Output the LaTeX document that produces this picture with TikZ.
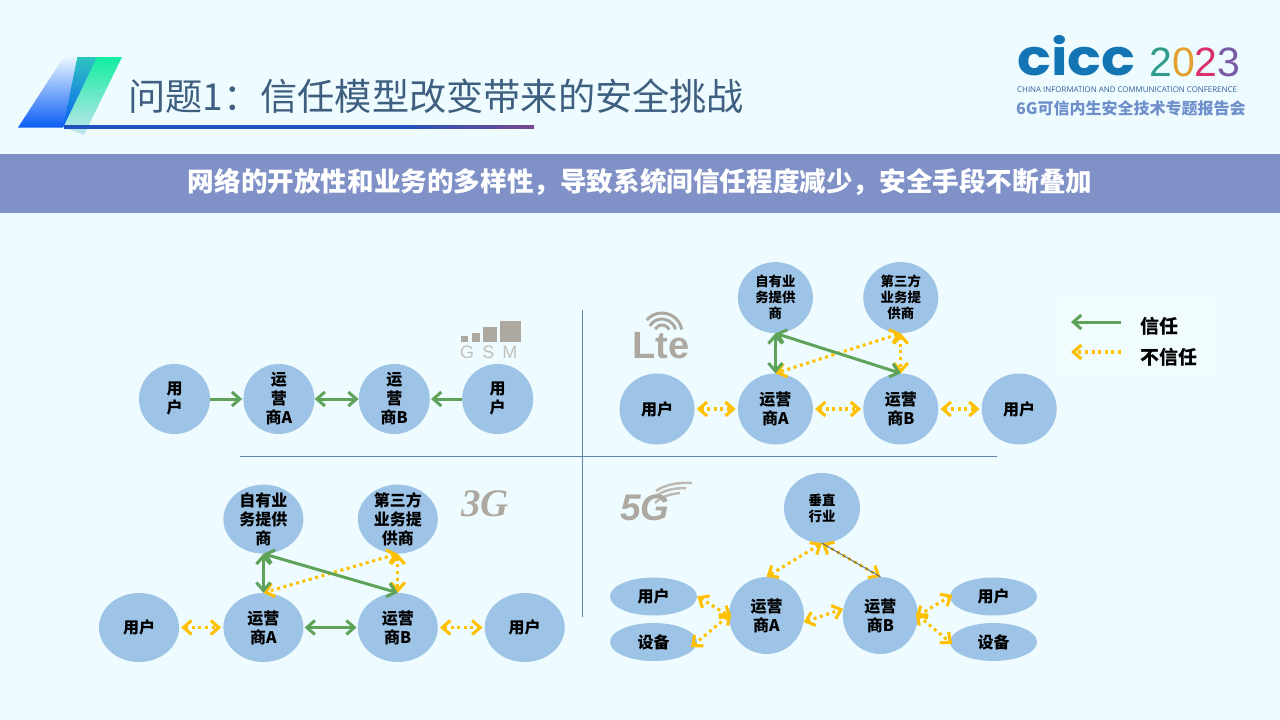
\documentclass[tikz,border=0pt]{standalone}
\usepackage{fontspec}
\setmainfont{Noto Sans CJK SC}
\newfontfamily\logosans{Liberation Sans}
\newfontfamily\logoserif{Liberation Serif}
\newfontfamily\logopop{Poppins}
\newfontfamily\logoopen{Open Sans}
\usepackage{xcolor}
\usepackage{tikz}
\usetikzlibrary{arrows.meta,positioning,shapes.geometric}
\definecolor{pagebg}{HTML}{EFFCFF}
\definecolor{nodeblue}{HTML}{9DC3E6}
\definecolor{trustgreen}{HTML}{5FA25A}
\definecolor{distrustgold}{HTML}{FFC000}
\definecolor{bandblue}{HTML}{7F91C6}
\definecolor{titleblue}{HTML}{3F5F80}
\definecolor{rulegrey}{HTML}{5F84AC}
\definecolor{logogrey}{HTML}{ADA9A1}
\definecolor{sessionblue}{HTML}{6F8FCB}
\definecolor{ciccblue}{HTML}{1475B5}
\definecolor{confblue}{HTML}{2F5E9E}
\definecolor{accentblue}{HTML}{0A5CF5}
\definecolor{accentteal}{HTML}{2EC4C0}
\definecolor{accentgreen}{HTML}{12EFA0}
\definecolor{accentpale}{HTML}{C5E3F0}
\definecolor{underlineblue}{HTML}{1F52BE}
\definecolor{underlineviolet}{HTML}{7A4A90}
\definecolor{yearteal}{HTML}{2F9C8C}
\definecolor{yearorange}{HTML}{E3A02F}
\definecolor{yearred}{HTML}{D9316E}
\definecolor{yearviolet}{HTML}{7A5BA6}

\begin{document}
\begin{tikzpicture}[
  x=1pt, y=-1pt,
  >={Straight Barb[length=8pt,width=14pt]},
  peer/.style={ellipse, fill=nodeblue, inner sep=-8pt, align=center,
               font=\bfseries\fontsize{16}{19}\selectfont},
  gsmpeer/.style={peer, minimum width=71pt, minimum height=70pt},
  ltepeer/.style={peer, minimum width=75pt, minimum height=71pt},
  tgpeer/.style={peer, minimum width=80pt, minimum height=69pt},
  fgpeer/.style={peer, minimum width=75pt, minimum height=77pt},
  fgside/.style={peer, minimum width=87pt, minimum height=38pt},
  smalltext/.style={font=\bfseries\fontsize{13.4}{16}\selectfont},
  trust/.style={draw=trustgreen, line width=3pt},
  distrust/.style={draw=distrustgold, line width=3.1pt, dash pattern=on 3pt off 3.6pt},
  legendtext/.style={anchor=west, inner sep=0pt, font=\bfseries\fontsize{19}{22}\selectfont},
  logotext/.style={inner sep=0pt, text=logogrey}
]
\useasboundingbox (0,0) rectangle (1280,720);
\fill[pagebg] (0,0) rectangle (1280,720);

% header
\shade[top color=pagebg, bottom color=accentblue] (18,127.5) -- (63,127.5) -- (98,55) -- (65,55) -- cycle;
\shade[top color=accentgreen, bottom color=accentpale] (77.5,57) -- (122,57) -- (84,135) -- (64,127.5) -- cycle;
\shade[top color=accentteal, bottom color=accentblue] (77.5,57) -- (97,57) -- (63,127.5) -- cycle;
\shade[left color=underlineblue, right color=underlineblue] (64,125.5) rectangle (400,128);
\shade[left color=underlineblue, right color=underlineviolet] (400,125.5) rectangle (534,128);
\node[anchor=west, inner sep=0pt, text=titleblue, font=\fontsize{37.2}{40}\selectfont] (title) at (128,96) {问题1\char"FF1A信任模型改变带来的安全挑战};
\fill[bandblue] (0,154) rectangle (1280,213);
\node[text=white, inner sep=0pt, font=\bfseries\fontsize{26.6}{30}\selectfont] (banner) at (640,182) {网络的开放性和业务的多样性\char"FF0C导致系统间信任程度减少\char"FF0C安全手段不断叠加};

% conference logo
\node[anchor=base west, inner sep=0pt, text depth=0pt, xscale=1.12, text=ciccblue, font=\logopop\bfseries\fontsize{50}{54}\selectfont] (cicc) at (1017,75) {cicc};
\node[anchor=base west, inner sep=0pt, text depth=0pt, font=\logosans\fontsize{41}{44}\selectfont] (year) at (1149,76) {\textcolor{yearteal}{2}\textcolor{yearorange}{0}\textcolor{yearred}{2}\textcolor{yearviolet}{3}};
\node[anchor=west, inner sep=0pt, text=confblue, font=\logoopen\fontsize{7.9}{9}\selectfont] (confname) at (1017,90) {CHINA INFORMATION AND COMMUNICATION CONFERENCE};
\node[anchor=base west, inner sep=0pt, text height=12pt, text depth=1pt, text=sessionblue, font=\bfseries\fontsize{16}{18}\selectfont] (session) at (1016,114) {6G可信内生安全技术专题报告会};

% quadrant rules
\coordinate (ruleTop) at (582,310);
\coordinate (ruleBottom) at (582,617);
\coordinate (ruleLeft) at (240,456.6);
\coordinate (ruleRight) at (997,456.6);
\draw[rulegrey, line width=1pt] (ruleTop) -- (ruleBottom);
\draw[rulegrey, line width=1pt] (ruleLeft) -- (ruleRight);

% GSM
\fill[logogrey] (461,336) rectangle (468,342);
\fill[logogrey] (472,333) rectangle (480,342);
\fill[logogrey] (483,327) rectangle (497,342);
\fill[logogrey] (500,321) rectangle (521,342);
\node[logotext, anchor=west, text=logogrey!75, font=\logosans\addfontfeatures{LetterSpace=45}\fontsize{18}{20}\selectfont] (gsmLogo) at (460,352) {GSM};
\node[gsmpeer] (gsmUserA) at (174.5,399) {用\\户};
\node[gsmpeer, right=33pt of gsmUserA] (gsmOpA) {运\\营\\商A};
\node[gsmpeer, right=44pt of gsmOpA] (gsmOpB) {运\\营\\商B};
\node[gsmpeer, right=32pt of gsmOpB] (gsmUserB) {用\\户};
\draw[trust, ->, shorten >=1pt] (gsmUserA) -- (gsmOpA);
\draw[trust, <->] (gsmOpA) -- (gsmOpB);
\draw[trust, ->, shorten >=1pt] (gsmUserB) -- (gsmOpB);

% LTE
\draw[logogrey, line width=3pt] (662,333) ++(25:8pt) arc[start angle=25, end angle=150, radius=8pt];
\draw[logogrey, line width=3pt] (662,333) ++(15:14pt) arc[start angle=15, end angle=150, radius=14pt];
\draw[logogrey, line width=3pt] (662,333) ++(10:20pt) arc[start angle=10, end angle=140, radius=20pt];
\node[logotext, font=\logosans\bfseries\fontsize{38}{40}\selectfont] (lteLogo) at (661,346) {Lte};
\node[ltepeer] (lteUserA) at (657,409) {用户};
\node[ltepeer, right=43pt of lteUserA] (lteOpA) {运营\\商A};
\node[ltepeer, right=50pt of lteOpA] (lteOpB) {运营\\商B};
\node[ltepeer, right=43pt of lteOpB] (lteUserB) {用户};
\node[ltepeer, smalltext, above=40pt of lteOpA] (lteOwn) {自有业\\务提供\\商};
\node[ltepeer, smalltext, above=40pt of lteOpB] (lteThird) {第三方\\业务提\\供商};
\draw[distrust, <->] (lteThird.south) -- (lteOpA.north);
\draw[distrust, <->] (lteThird.south) -- (lteOpB.north);
\draw[trust, <->] (lteOwn.south) -- (lteOpA.north);
\draw[trust, <->] (lteOwn.south) -- (lteOpB.north);
\draw[distrust, <->, shorten <=2pt, shorten >=2pt] (lteUserA) -- (lteOpA);
\draw[distrust, <->, shorten <=2pt, shorten >=2pt] (lteOpA) -- (lteOpB);
\draw[distrust, <->, shorten <=2pt, shorten >=2pt] (lteOpB) -- (lteUserB);

% legend
\fill[white, opacity=.15] (1057,300) rectangle (1215,377);
\node[legendtext] (legTrust) at (1140,326) {信任};
\node[legendtext] (legDistrust) at (1140,357) {不信任};
\coordinate (legTrustR) at (1121,322);
\coordinate (legTrustL) at (1071,322);
\coordinate (legDistrustR) at (1121,352);
\coordinate (legDistrustL) at (1071,352);
\draw[trust, ->] (legTrustR) -- (legTrustL);
\draw[distrust, ->] (legDistrustR) -- (legDistrustL);

% 3G
\node[logotext, font=\logoserif\bfseries\itshape\fontsize{39}{42}\selectfont] (tgLogo) at (485,504) {3G};
\node[tgpeer] (tgUserA) at (139,627.5) {用户};
\node[tgpeer, right=44pt of tgUserA] (tgOpA) {运营\\商A};
\node[tgpeer, right=54pt of tgOpA] (tgOpB) {运营\\商B};
\node[tgpeer, right=46.5pt of tgOpB] (tgUserB) {用户};
\node[tgpeer, above=39pt of tgOpA] (tgOwn) {自有业\\务提供\\商};
\node[tgpeer, above=39pt of tgOpB] (tgThird) {第三方\\业务提\\供商};
\draw[distrust, <->] (tgThird.south) -- (tgOpA.north);
\draw[distrust, <->] (tgThird.south) -- (tgOpB.north);
\draw[trust, <->] (tgOwn.south) -- (tgOpA.north);
\draw[trust, <->] (tgOwn.south) -- (tgOpB.north);
\draw[distrust, <->, shorten <=2pt, shorten >=2pt] (tgUserA) -- (tgOpA);
\draw[trust, <->, shorten <=1pt, shorten >=1pt] (tgOpA) -- (tgOpB);
\draw[distrust, <->, shorten <=2pt, shorten >=2pt] (tgOpB) -- (tgUserB);

% 5G
\draw[logogrey!80, line width=2.5pt] (655,503) .. controls (660,498) and (668,494) .. (680,493);
\draw[logogrey!80, line width=2.5pt] (655,497) .. controls (662,491) and (672,488) .. (686,488);
\draw[logogrey!80, line width=2.5pt] (656,491) .. controls (664,485) and (678,482) .. (692,483);
\node[logotext, font=\logosans\bfseries\itshape\fontsize{37}{40}\selectfont] (fgLogo) at (645,508) {5G};
\node[fgpeer] (fgOpA) at (766.5,615.5) {运营\\商A};
\node[fgpeer, right=38.5pt of fgOpA] (fgOpB) {运营\\商B};
\node[peer, smalltext, minimum width=76pt, minimum height=70pt] (fgVert) at (822,508) {垂直\\行业};
\node[fgside] (fgUserA) at (653.5,596.5) {用户};
\node[fgside] (fgDevA) at (653.5,642) {设备};
\node[fgside] (fgUserB) at (993.5,596.5) {用户};
\node[fgside] (fgDevB) at (993.5,642) {设备};
\draw[distrust, <->] (fgVert.south) -- (fgOpA.north);
\draw[distrust, <->] (fgVert.south) -- (fgOpB.north);
\draw[rulegrey!70!black, line width=.8pt] (fgVert.south) -- (fgOpB.north);
\draw[distrust, <->] (fgOpA.-10) -- (fgOpB.170);
\draw[distrust, <->, shorten >=-3pt] (fgUserA.east) -- (fgOpA.west);
\draw[distrust, <->, shorten <=-8pt, shorten >=-3pt] (fgDevA.east) -- (fgOpA.west);
\draw[distrust, <->, shorten <=-3pt, shorten >=-3pt] (fgOpB.east) -- (fgUserB.west);
\draw[distrust, <->, shorten <=-3pt, shorten >=-3pt] (fgOpB.east) -- (fgDevB.west);
\end{tikzpicture}
\end{document}
